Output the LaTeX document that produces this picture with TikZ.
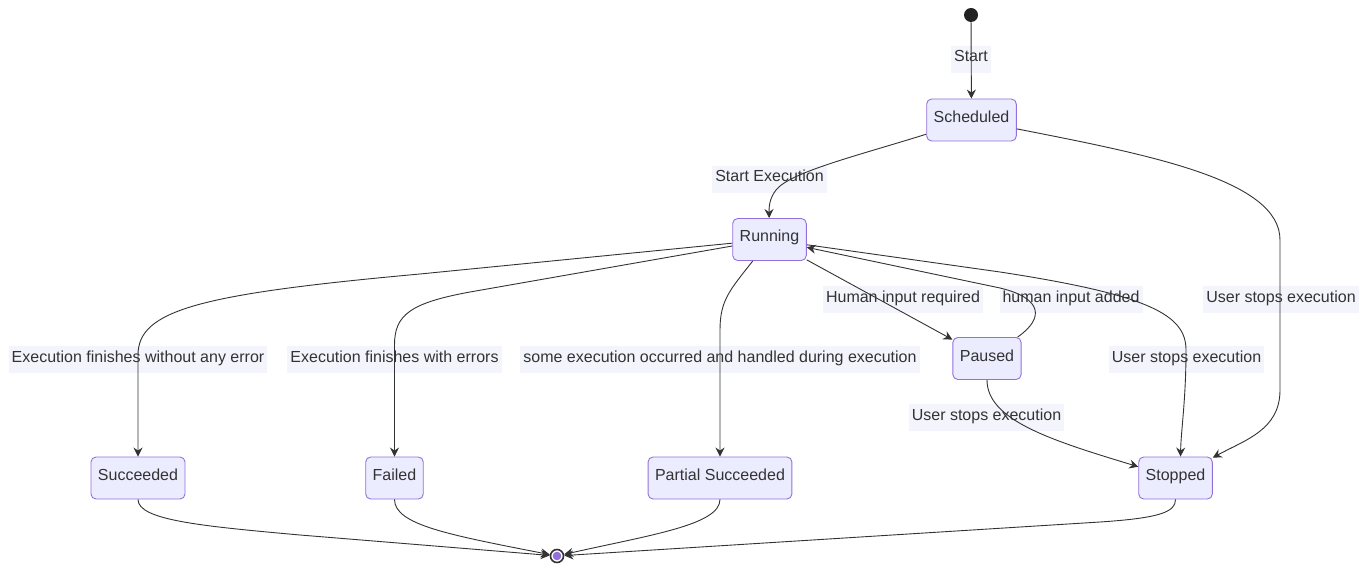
\documentclass[tikz,border=0pt]{standalone}
\usepackage{fontspec}
\setmainfont{Liberation Sans}
\usetikzlibrary{arrows.meta}
\definecolor{ink}{HTML}{333333}
\definecolor{startc}{HTML}{222222}
\definecolor{boxfill}{HTML}{ECECFF}
\definecolor{boxline}{HTML}{9370DB}
\definecolor{lblfill}{HTML}{F4F4FD}
\begin{document}
\begin{tikzpicture}[x=1pt, y=-1pt,
  font=\fontsize{16}{19}\selectfont, text=ink,
  state/.style={draw=boxline, fill=boxfill, rounded corners=5pt, line width=0.9pt,
    minimum height=42pt, inner xsep=7pt, text height=11pt, text depth=6pt},
  lbl/.style={fill=lblfill, inner xsep=3pt, inner ysep=5pt, text height=11pt, text depth=6pt, anchor=base},
  tr/.style={draw=ink, line width=0.9pt, -{Stealth[length=9pt,width=9pt,inset=3pt]}}]
\useasboundingbox (0,0) rectangle (1363,572);

% edge labels
\node[lbl] (lStart) at (971,62) {Start};
\node[lbl] (lExec) at (769.5,182) {Start Execution};
\node[lbl] (lHum) at (903,302) {Human input required};
\node[lbl] (lAdd) at (1071,302) {human input added};
\node[lbl] (lUs1) at (1281,302) {User stops execution};
\node[lbl] (lOk) at (138,362) {Execution finishes without any error};
\node[lbl] (lErr) at (394.5,362) {Execution finishes with errors};
\node[lbl] (lSome) at (720,362) {some execution occurred and handled during execution};
\node[lbl] (lUs2) at (1186.5,362) {User stops execution};
\node[lbl] (lUs3) at (986.5,420) {User stops execution};

% states
\node[state] (Sch) at (971.5,120) {Scheduled};
\node[state] (Run) at (769.5,239.5) {Running};
\node[state] (Pau) at (987,358.5) {Paused};
\node[state] (Suc) at (138,478) {Succeeded};
\node[state] (Fai) at (394.5,478) {Failed};
\node[state] (Par) at (720,478) {Partial Succeeded};
\node[state] (Sto) at (1175.5,478) {Stopped};
\node[circle, fill=startc, minimum size=14pt, inner sep=0pt] (S0) at (971,15) {};
\node[circle, draw=ink, line width=1.6pt, fill=white, minimum size=13pt, inner sep=0pt] (E0) at (557,556) {};
\fill[boxline] (E0.center) circle (4.3);

% transitions
\draw[tr] (S0) -- (Sch);
\draw[tr] (Sch) .. controls (860,155) and (790,172) .. (776,190) .. controls (769,199) and (769,208) .. (Run);
\draw[tr] (Sch) .. controls (1150,155) and (1280,180) .. (1280,240) -- (1280,390) .. controls (1280,430) and (1245,440) .. (Sto);
\draw[tr] (Run) -- (420,274) .. controls (200,294) and (138,310) .. (138,355) -- (Suc);
\draw[tr] (Run) -- (470,292) .. controls (410,303) and (394.5,315) .. (394.5,345) -- (Fai);
\draw[tr] (Run) .. controls (730,290) and (720,300) .. (720,330) -- (Par);
\draw[tr] (Run) -- (Pau);
\draw[tr] ([xshift=-4pt]Pau.north east) .. controls (1045,318) and (1042,298) .. (1000,288) -- (Run);
\draw[tr] (Run) -- (1000,272) .. controls (1150,295) and (1186,315) .. (1186,350) .. controls (1186,400) and (1181,430) .. ([xshift=5pt]Sto.north);
\draw[tr] (Pau) .. controls (987,420) and (1050,440) .. (Sto);
\draw[tr] (Suc) .. controls (138,520) and (200,526) .. (300,535) -- (E0);
\draw[tr] (Fai) .. controls (394.5,525) and (450,535) .. (E0);
\draw[tr] (Par) .. controls (720,525) and (650,535) .. (E0);
\draw[tr] (Sto) .. controls (1175.5,512) and (1160,518) .. (1100,522) -- (E0);
\end{tikzpicture}
\end{document}
